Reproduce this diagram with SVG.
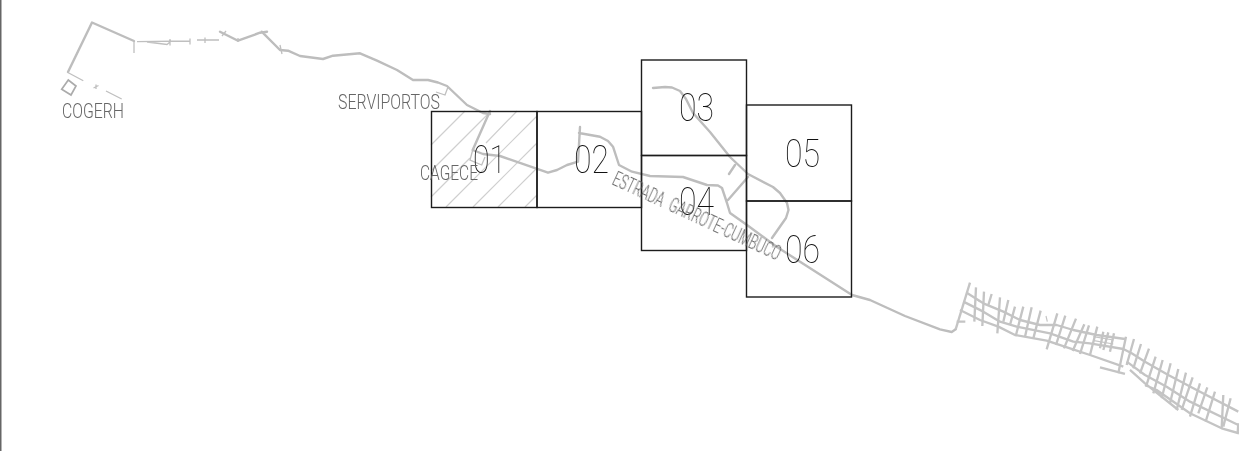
<svg xmlns="http://www.w3.org/2000/svg" width="1239" height="451" viewBox="0 0 1239 451">
<defs><filter id="flat" x="-5%" y="-5%" width="110%" height="110%"><feOffset dx="0" dy="0"/></filter></defs>
<style>
.bg{fill:#fff}
.road{fill:none;stroke:#bdbdbd;stroke-width:2.400;stroke-linejoin:round;stroke-linecap:round}
.thin{fill:none;stroke:#bfbfbf;stroke-width:1.300}
.box{fill:none;stroke:#ababab;stroke-width:1.700}
.hatch{fill:none;stroke:#cfcfcf;stroke-width:1.200}
.grid{fill:none;stroke:#c4c4c4;stroke-width:7;stroke-linejoin:round}
.fine{fill:none;stroke:#c4c4c4;stroke-width:3.500}
.sheet{fill:none;stroke:#1c1c1c;stroke-width:1.400}
.num{font-family:Roboto,"Liberation Sans",sans-serif;font-weight:100;font-size:38px;fill:#111;filter:url(#flat)}
.lab{font-family:Roboto,"Liberation Sans",sans-serif;font-weight:300;font-size:20px;fill:#666;filter:url(#flat)}
</style>
<rect class="bg" width="1239" height="451"/>
<rect x="0" y="0" width="1.500" height="451" fill="#666"/>
<g id="connectors">
<g id="hatch-01">
<path class="hatch" d="M431 145L465 111M431 171L491 111M431 197L470 158M486 143L517 111M446 207L537 116M473 207L537 143M498 207L537 168M525 207L537 195"/>
</g>
<g id="road-west">
<path class="road" d="M68 72L92 22.500L134 41"/>
<path class="thin" d="M134 41V53M137 41.600L190 41M147 42L167 44.500L170 42M170 39V45.500M190 38.500V44.500M197 40H219M205 37.500V43M96 84.500L96 89M93.500 88L98.500 85.500M68.300 72.700L83.300 80.700M106 91L121.700 99"/>
<path class="road" d="M220 31.700L230 36.700L238 40.700L260 32.700L267 31.700M261.700 31.700L280 50L288 50.700L300 56L323 59L333 55.700L360 53.300L377 60.700L397 70L413 80L428 80L438 82.500L447 86L467 105L483 113L490 114"/>
<path class="thin" d="M222 36L226 31M280 45L282 54M238 38V42"/>
<path class="road" d="M490 111L472.700 150L483 154L500 156L548 172.700L557 170L567 165L578 161.700L580 127M579 133L600 136.700L608 141L613 146.700L619 165L632 171.700L650 176L683 177L707 185L718 185.500L722 188L727 203L730 213L747 225L777 247L852 295L870 300L905 316L940 329.300L951.700 332L955.700 329.300"/>
<path class="box" d="M61.700 89.300L68.300 80L76 86L71 95Z"/>
<path class="thin" d="M448 87L445 95L436 92M472.700 150L470 160L481.700 165L485 157"/>
</g>
<g id="road-east">
<path class="road" d="M653 88L665 87L672 87.500L680 91L686 99L693 113L710 132L730 157L748 174L773 187L780 193L787 203L788.500 210L786 218L772 238M728 200L748 177M735 165L729 174"/>
</g>
<g id="street-grid" transform="translate(940 270) scale(.3333)">
<path class="grid" d="M47 178L90 38"/>
<path class="grid" d="M80 68L130 100L190 125L240 150L300 165L350 165L400 180L470 195L555 207"/>
<path class="grid" d="M70 95L130 125L180 155L230 170L330 190L400 215L450 220L550 237L575 250L615 275L685 315L760 355L895 425"/>
<path class="grid" d="M60 120L120 150L175 170L225 195L320 212L390 235L450 255L550 290M560 275L615 315L680 350L750 395L895 465"/>
<path class="grid" d="M570 300L615 340L715 420M615 345L650 360L750 430L845 475L897 490M480 292L555 312M50 155H76"/>
<path class="grid" d="M108 52L103 155M132 65L127 168M155 72L145 105M180 82L172 190M205 90L190 155M225 110L210 165M250 110L228 195M275 112L255 200M302 122L280 205M352 130L320 238M376 137L348 225M408 146L372 235M433 163L398 243M447 166L420 252M472 170L450 255M490 185L480 235M505 187L490 240M522 190L510 245M558 200L535 310M582 207L560 285M603 222L580 295M627 236L600 310M647 260L618 350M668 270L640 370M692 280L665 385M715 297L690 400M738 308L710 420M758 322L725 420M780 340L750 440M802 352L775 430M825 365L797 455M850 375L845 475M872 385L850 470M895 460L893 490"/>
<path class="fine" d="M460 200L520 210M462 212L520 222M105 85L120 95M318 138L322 155"/>
</g>
</g>
<g id="sheet-01"><rect class="sheet" x="431.500" y="111.500" width="105.500" height="96"/><text class="num" x="473" y="172.500" textLength="33" lengthAdjust="spacingAndGlyphs">01</text></g>
<g id="sheet-02"><rect class="sheet" x="537" y="111.500" width="104.500" height="96"/><text class="num" x="574" y="172.500" textLength="35" lengthAdjust="spacingAndGlyphs">02</text></g>
<g id="sheet-03"><rect class="sheet" x="641.500" y="60" width="105" height="95.500"/><text class="num" x="679" y="121" textLength="35" lengthAdjust="spacingAndGlyphs">03</text></g>
<g id="sheet-04"><rect class="sheet" x="641.500" y="155.500" width="105" height="95"/><text class="num" x="679" y="215" textLength="35" lengthAdjust="spacingAndGlyphs">04</text></g>
<g id="sheet-05"><rect class="sheet" x="746.500" y="105" width="105" height="96"/><text class="num" x="785" y="167" textLength="35" lengthAdjust="spacingAndGlyphs">05</text></g>
<g id="sheet-06"><rect class="sheet" x="746.500" y="201" width="105" height="96"/><text class="num" x="785" y="263" textLength="35" lengthAdjust="spacingAndGlyphs">06</text></g>
<g id="label-cogerh"><text class="lab" x="62" y="118" textLength="62" lengthAdjust="spacingAndGlyphs">COGERH</text></g>
<g id="label-serviportos"><text class="lab" x="338" y="109" textLength="102" lengthAdjust="spacingAndGlyphs">SERVIPORTOS</text></g>
<g id="label-cagece"><text class="lab" x="420" y="180" textLength="58" lengthAdjust="spacingAndGlyphs">CAGECE</text></g>
<g id="label-estrada"><text class="lab" transform="translate(611 184) rotate(24.800)" textLength="183" lengthAdjust="spacingAndGlyphs" word-spacing="6">ESTRADA GARROTE-CUMBUCO</text></g>
</svg>
